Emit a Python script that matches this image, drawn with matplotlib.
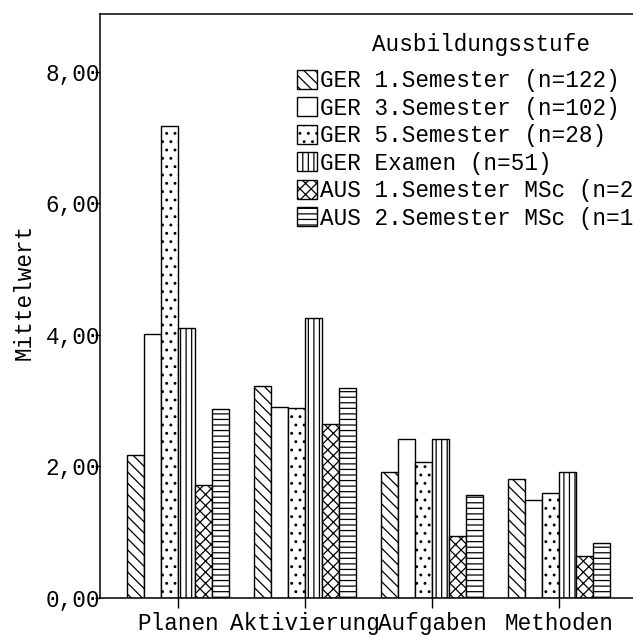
import matplotlib
matplotlib.use("Agg")
import matplotlib.pyplot as plt
import numpy as np

categories = ["Planen", "Aktivierung", "Aufgaben", "Methoden"]
legend_title = "Ausbildungsstufe"
series_labels = [
    "GER 1.Semester (n=122)",
    "GER 3.Semester (n=102)",
    "GER 5.Semester (n=28)",
    "GER Examen (n=51)",
    "AUS 1.Semester MSc (n=25)",
    "AUS 2.Semester MSc (n=13)",
]
ger1 = [2.17, 3.23, 1.91, 1.81]
ger3 = [4.02, 2.90, 2.42, 1.49]
ger5 = [7.18, 2.89, 2.07, 1.60]
ger_ex = [4.11, 4.25, 2.42, 1.91]
aus1 = [1.72, 2.64, 0.95, 0.64]
aus2 = [2.87, 3.20, 1.57, 0.83]
series_values = [ger1, ger3, ger5, ger_ex, aus1, aus2]
ytick_vals = [0, 2, 4, 6, 8]
ytick_labels = ["0,00", "2,00", "4,00", "6,00", "8,00"]

hatches = ["\\\\\\", "", "..", "|||", "xxx", "---"]

plt.rcParams["font.family"] = ["Liberation Mono", "DejaVu Sans Mono"]
plt.rcParams["hatch.linewidth"] = 0.9
fs = 16.3

fig = plt.figure(figsize=(6.33, 6.35), dpi=100)
W, H = 633, 635
ax = fig.add_axes([100 / W, 37 / H, 537 / W, 584 / H])

x = np.arange(len(categories))
w = 0.135
handles = []
for j, (vals, lab, h) in enumerate(zip(series_values, series_labels, hatches)):
    b = ax.bar(x + (j - 2.5) * w, vals, width=w, facecolor="white",
               edgecolor="black", hatch=h, linewidth=1.0, label=lab)
    handles.append(b)

ax.set_xlim(-0.614, 3.614)
ax.set_ylim(0, 8.88)
ax.set_xticks(x)
ax.set_xticklabels(categories, fontsize=fs)
ax.set_yticks(ytick_vals)
ax.set_yticklabels(ytick_labels, fontsize=fs)
ax.tick_params(axis="x", direction="out", length=7.2, width=1.0, pad=3.2)
ax.tick_params(axis="y", direction="out", length=3.6, width=1.0, pad=-3.6)
for s in ax.spines.values():
    s.set_linewidth(1.1)

ax.set_ylabel("Mittelwert", fontsize=fs)
ax.yaxis.set_label_coords(-0.12, 0.525)

leg = ax.legend(handles=handles, fontsize=fs, frameon=False, loc="upper left",
                bbox_to_anchor=(297 / W, 1 - 69 / H), bbox_transform=fig.transFigure,
                borderpad=0, borderaxespad=0, handlelength=0.9, handleheight=0.9,
                handletextpad=0.1, labelspacing=0.2)
fig.text(481 / W, 1 - 45 / H, legend_title, fontsize=fs, ha="center", va="center")

fig.savefig("out.png", dpi=100)
